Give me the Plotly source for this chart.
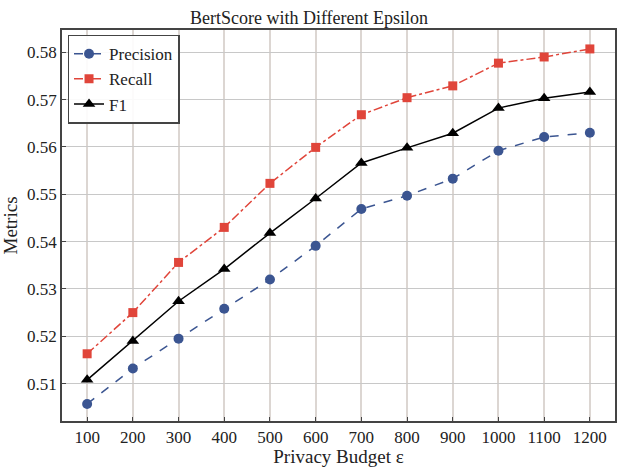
import plotly.graph_objects as go

epsilon = [100, 200, 300, 400, 500, 600, 700, 800, 900, 1000, 1100, 1200]
precision = [0.5057, 0.5132, 0.5195, 0.5258, 0.5320, 0.5391, 0.5469, 0.5497, 0.5533, 0.5592, 0.5621, 0.5630]
recall = [0.5163, 0.5250, 0.5356, 0.5430, 0.5523, 0.5599, 0.5668, 0.5704, 0.5729, 0.5777, 0.5790, 0.5807]
f1 = [0.5108, 0.5190, 0.5274, 0.5342, 0.5418, 0.5491, 0.5566, 0.5598, 0.5629, 0.5682, 0.5703, 0.5716]
yticks = [0.51, 0.52, 0.53, 0.54, 0.55, 0.56, 0.57, 0.58]

FONT = "Liberation Serif, DejaVu Serif, serif"
fig = go.Figure()
fig.add_trace(go.Scatter(x=epsilon, y=precision, name="Precision", mode="lines+markers",
                         line=dict(color="#3B5591", width=1.5, dash="dash"),
                         marker=dict(symbol="circle", size=10, color="#3B5591")))
fig.add_trace(go.Scatter(x=epsilon, y=recall, name="Recall", mode="lines+markers",
                         line=dict(color="#E0453A", width=1.5, dash="dashdot"),
                         marker=dict(symbol="square", size=9, color="#E0453A")))
fig.add_trace(go.Scatter(x=epsilon, y=f1, name="F1", mode="lines+markers",
                         line=dict(color="black", width=1.5, dash="solid"),
                         marker=dict(symbol="triangle-up", size=11, color="black")))

fig.update_layout(
    width=618, height=467,
    margin=dict(l=62, r=1, t=30, b=46),
    paper_bgcolor="white", plot_bgcolor="white",
    font=dict(family=FONT, size=16, color="#222"),
    title=dict(text="BertScore with Different Epsilon", x=0.5, xanchor="center",
               y=0.962, yanchor="middle", font=dict(size=18, family=FONT, color="#222")),
    showlegend=True,
    legend=dict(x=0.01, y=0.988, xanchor="left", yanchor="top",
                bgcolor="rgba(255,255,255,0.9)", bordercolor="#444", borderwidth=1.5,
                font=dict(size=17, family=FONT, color="#222"),
                tracegroupgap=0, itemwidth=30),
)
fig.update_xaxes(range=[45, 1255], tickvals=epsilon, ticktext=[str(v) for v in epsilon],
                 showgrid=True, gridcolor="#DCD6D2", gridwidth=1.5,
                 showline=True, linecolor="#444", linewidth=1.5, mirror=True,
                 ticks="inside", ticklen=4, tickcolor="#444",
                 tickfont=dict(size=17, family=FONT),
                 title=dict(text="Privacy Budget ε", font=dict(size=19, family=FONT), standoff=4),
                 zeroline=False)
fig.update_yaxes(range=[0.5021, 0.5847], tickvals=yticks, ticktext=[f"{v:.2f}" for v in yticks],
                 showgrid=True, gridcolor="#C8C8C8", gridwidth=1.2,
                 showline=True, linecolor="#444", linewidth=1.5, mirror=True,
                 ticks="inside", ticklen=4, tickcolor="#444",
                 tickfont=dict(size=17, family=FONT),
                 title=dict(text="Metrics", font=dict(size=19, family=FONT), standoff=4),
                 zeroline=False)

fig.write_html("out.html")
